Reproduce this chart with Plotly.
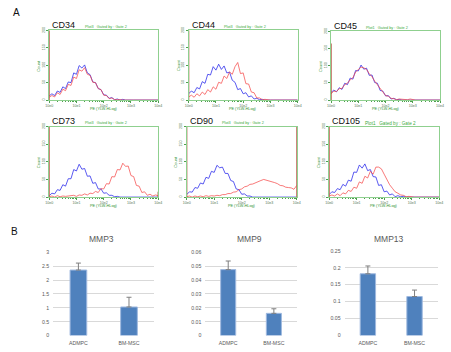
import math
import plotly.graph_objects as go

# ---------------- data ----------------
BINS = [0.0, 0.1, 0.2, 0.3, 0.4, 0.5, 0.6, 0.7, 0.8, 0.9, 1.0, 1.1, 1.2, 1.3, 1.4, 1.5, 1.6, 1.7, 1.8, 1.9,
        2.0, 2.1, 2.2, 2.3, 2.4, 2.5, 2.6, 2.7, 2.8, 2.9, 3.0, 3.1, 3.2, 3.3, 3.4, 3.5, 3.6, 3.7, 3.8, 3.9, 4.0]

MARKERS = ["CD34", "CD44", "CD45", "CD73", "CD90", "CD105"]
PLOT_IDS = ["Plot3", "Plot3", "Plot1", "Plot3", "Plot3", "Plot1"]

CD34_BLUE = [12,18,13,26,22,38,33,52,50,78,74,99,92,101,78,73,52,50,33,30,15,14,5,7,1,3,0,2,0,1,0,0,0,0,0,0,0,0,0,0,0]
CD34_RED = [8,13,9,21,16,31,27,45,42,66,62,87,83,93,74,71,51,50,33,30,14,13,4,6,1,2,1,0,1,0,0,0,0,0,0,0,0,0,0,0,0]
CD44_BLUE = [18,26,21,36,32,53,48,74,72,96,86,103,88,98,78,80,57,51,30,33,18,21,9,12,3,5,1,2,0,1,0,0,0,0,0,0,0,0,0,0,0]
CD44_RED = [9,14,8,18,12,23,16,30,23,38,31,51,48,69,62,81,74,96,108,76,78,47,46,23,21,6,6,1,2,0,0,0,0,0,0,0,0,0,0,0,0]
CD45_BLUE = [22,29,24,36,31,49,45,64,61,86,85,102,90,93,72,73,51,49,28,26,12,13,3,5,1,2,0,1,0,0,0,0,0,0,0,0,0,0,0,0,0]
CD45_RED = [18,26,25,33,34,45,49,59,65,82,89,96,94,89,77,68,55,45,32,23,13,11,5,4,1,3,2,3,1,3,1,0,0,0,0,0,0,0,0,0,0]
CD73_BLUE = [4,11,9,21,19,35,31,52,52,78,74,93,79,81,59,60,39,41,23,23,11,12,5,5,1,2,0,0,0,0,0,0,0,0,0,0,0,0,0,0,0]
CD73_RED = [1,3,0,4,1,3,2,3,2,5,2,6,5,9,6,11,10,16,13,24,23,38,37,58,57,78,77,96,87,88,61,58,33,31,13,15,5,8,3,6,4]
CD90_BLUE = [7,15,14,27,25,40,37,56,53,73,70,90,83,85,67,67,47,44,23,21,8,9,3,3,0,1,0,0,0,0,0,0,0,0,0,0,0,0,0,0,0]
CD90_RED = [1,3,0,3,1,3,1,4,2,4,3,5,4,7,7,10,10,14,15,21,23,29,31,36,37,41,43,47,50,48,46,45,41,38,33,32,28,27,26,22,33]
CD105_BLUE = [7,15,13,24,21,36,31,48,45,71,70,91,82,94,75,78,58,57,33,35,15,17,6,9,1,4,1,2,0,0,0,0,0,0,0,0,0,0,0,0,0]
CD105_RED = [3,6,3,9,4,12,9,19,16,28,25,43,39,59,54,73,65,85,85,80,65,50,35,25,15,11,6,5,1,2,0,0,0,0,0,0,0,0,0,0,0]

BLUE_SERIES = [CD34_BLUE, CD44_BLUE, CD45_BLUE, CD73_BLUE, CD90_BLUE, CD105_BLUE]
RED_SERIES = [CD34_RED, CD44_RED, CD45_RED, CD73_RED, CD90_RED, CD105_RED]
LEFT_EDGE = [250, 250, 165, 250, 250, 250]   # off-scale counts piled in first bin
RIGHT_EDGE = [0, 0, 0, 15, 250, 0]           # counts piled in last bin

HIST_TICKS = ["10e0", "10e1", "10e2", "10e3", "10e4"]
COUNT_TICKS = [0, 50, 100, 150, 200]

GENES = ["MMP3", "MMP9", "MMP13"]
CELLS = ["ADMPC", "BM-MSC"]
MMP3 = [2.36, 1.03]
MMP3_ERR = [0.25, 0.35]
MMP9 = [0.0475, 0.016]
MMP9_ERR = [0.0062, 0.0033]
MMP13 = [0.182, 0.115]
MMP13_ERR = [0.023, 0.019]
BAR_VALUES = [MMP3, MMP9, MMP13]
BAR_ERRS = [MMP3_ERR, MMP9_ERR, MMP13_ERR]
BAR_TOPS = [3, 0.06, 0.25]
BAR_DTICK = [0.5, 0.01, 0.05]

# ---------------- layout helpers ----------------
W, H = 451, 352
def fx(x):
    return x / W
def fy(y):
    return 1 - y / H

HIST_BOXES = [(46, 27, 157, 98), (188, 27, 299, 98), (333, 28, 444, 98),
              (46, 125, 157, 197), (186, 125, 298, 197), (331, 125, 443, 197)]
BAR_BOXES = [(50, 253.3, 153, 338.3), (205, 253.3, 298, 338.3), (346.7, 251.7, 441.7, 338.3)]

GREEN = "#8fd08f"
GREEN_TXT = "#4f9f4f"
BLUE = "rgba(40,40,235,0.85)"
RED = "rgba(245,70,70,0.8)"
EDGE = "#b0402e"
FONT = "Liberation Sans"

fig = go.Figure()
annotations = []
layout = {}

minor_vals = [d + math.log10(k) for d in range(4) for k in range(2, 10)]

for i in range(6):
    n = i + 1
    xa = "x" if n == 1 else f"x{n}"
    ya = "y" if n == 1 else f"y{n}"
    x0, y0, x1, y1 = HIST_BOXES[i]
    fig.add_trace(go.Scatter(x=BINS, y=BLUE_SERIES[i], mode="lines",
                             line=dict(color=BLUE, width=0.9), xaxis=xa, yaxis=ya,
                             hoverinfo="skip", showlegend=False))
    fig.add_trace(go.Scatter(x=BINS, y=RED_SERIES[i], mode="lines",
                             line=dict(color=RED, width=0.9), xaxis=xa, yaxis=ya,
                             hoverinfo="skip", showlegend=False))
    if LEFT_EDGE[i]:
        fig.add_trace(go.Scatter(x=[BINS[0], BINS[0]], y=[0, LEFT_EDGE[i]], mode="lines",
                                 line=dict(color=EDGE, width=1.2), xaxis=xa, yaxis=ya,
                                 hoverinfo="skip", showlegend=False))
    if RIGHT_EDGE[i]:
        fig.add_trace(go.Scatter(x=[BINS[-1], BINS[-1]], y=[0, RIGHT_EDGE[i]], mode="lines",
                                 line=dict(color=EDGE, width=1.2), xaxis=xa, yaxis=ya,
                                 hoverinfo="skip", showlegend=False))
    key_x = "xaxis" if n == 1 else f"xaxis{n}"
    key_y = "yaxis" if n == 1 else f"yaxis{n}"
    layout[key_x] = dict(domain=[fx(x0), fx(x1)], range=[0, 4], anchor=ya,
                         showgrid=False, zeroline=False, showline=True, mirror=True,
                         linecolor=GREEN, linewidth=1,
                         tickmode="array", tickvals=[0, 1, 2, 3, 4], ticktext=HIST_TICKS,
                         ticks="outside", ticklen=2, tickcolor=GREEN_TXT, tickwidth=0.6,
                         tickfont=dict(size=3.6, color="#557755", family=FONT),
                         minor=dict(tickmode="array", tickvals=minor_vals, ticks="outside",
                                    ticklen=1.3, tickcolor=GREEN_TXT, tickwidth=0.5),
                         fixedrange=True)
    layout[key_y] = dict(domain=[fy(y1), fy(y0)], range=[0, 200], anchor=xa,
                         showgrid=False, zeroline=False, showline=True, mirror=True,
                         linecolor=GREEN, linewidth=1,
                         tickmode="array", tickvals=COUNT_TICKS, tickangle=-90,
                         ticks="outside", ticklen=2, tickcolor=GREEN_TXT, tickwidth=0.6,
                         tickfont=dict(size=3.6, color="#557755", family=FONT),
                         fixedrange=True)
    annotations.append(dict(x=fx(x0 + 1), y=fy(y0 + 1.5), xref="paper", yref="paper",
                            text=MARKERS[i], showarrow=False, xanchor="left", yanchor="bottom",
                            font=dict(size=9, color="#111111", family=FONT)))
    annotations.append(dict(x=fx(x0 + 34), y=fy(y0 - 3.5), xref="paper", yref="paper",
                            text=PLOT_IDS[i] + "&nbsp;&nbsp; Gated by : Gate 2", showarrow=False,
                            xanchor="left", yanchor="middle",
                            font=dict(size=3.8 if i != 5 else 4.6, color="#3daa3d", family=FONT)))
    annotations.append(dict(x=fx((x0 + x1) / 2), y=fy(y1 + 9.5), xref="paper", yref="paper",
                            text="PE (YLW-HLog)", showarrow=False, xanchor="center", yanchor="middle",
                            font=dict(size=3.8, color="#2f8f2f", family=FONT)))
    annotations.append(dict(x=fx(x0 - 11), y=fy((y0 + y1) / 2), xref="paper", yref="paper",
                            text="Count", showarrow=False, textangle=-90, xanchor="center", yanchor="middle",
                            font=dict(size=4, color="#2f8f2f", family=FONT)))

for j in range(3):
    n = 7 + j
    xa, ya = f"x{n}", f"y{n}"
    x0, y0, x1, y1 = BAR_BOXES[j]
    fig.add_trace(go.Bar(x=CELLS, y=BAR_VALUES[j], width=0.33, xaxis=xa, yaxis=ya,
                         marker=dict(color="#4f81bd", line=dict(color="#9fb9df", width=1)),
                         error_y=dict(type="data", symmetric=False, array=BAR_ERRS[j],
                                      arrayminus=[0, 0], color="#7f7f7f", thickness=1, width=2.5),
                         hoverinfo="skip", showlegend=False))
    layout[f"xaxis{n}"] = dict(domain=[fx(x0), fx(x1)], anchor=ya, showgrid=False, zeroline=False,
                               showline=False, ticks="", type="category",
                               tickfont=dict(size=5.2, color="#595959", family=FONT),
                               ticklabelstandoff=3, fixedrange=True)
    layout[f"yaxis{n}"] = dict(domain=[fy(y1), fy(y0)], anchor=xa, range=[0, BAR_TOPS[j]],
                               dtick=BAR_DTICK[j], tick0=0, showgrid=True, gridcolor="#d9d9d9",
                               gridwidth=1, zeroline=False, showline=False, ticks="",
                               tickfont=dict(size=5.2, color="#595959", family=FONT),
                               ticklabelstandoff=3, fixedrange=True)
    annotations.append(dict(x=fx((x0 + x1) / 2 - 2), y=fy(240), xref="paper", yref="paper",
                            text=GENES[j], showarrow=False, xanchor="center", yanchor="middle",
                            font=dict(size=8.5, color="#595959", family=FONT)))

annotations.append(dict(x=fx(13), y=fy(8.5), xref="paper", yref="paper", text="A", showarrow=False,
                        xanchor="center", yanchor="middle", font=dict(size=10, color="#111111", family=FONT)))
annotations.append(dict(x=fx(10.5), y=fy(232), xref="paper", yref="paper", text="B", showarrow=False,
                        xanchor="center", yanchor="middle", font=dict(size=10, color="#111111", family=FONT)))

fig.update_layout(width=W, height=H, autosize=False, margin=dict(l=0, r=0, t=0, b=0),
                  paper_bgcolor="white", plot_bgcolor="white", annotations=annotations,
                  bargap=0.3, **layout)
fig.write_html("out.html", config={"displayModeBar": False})
